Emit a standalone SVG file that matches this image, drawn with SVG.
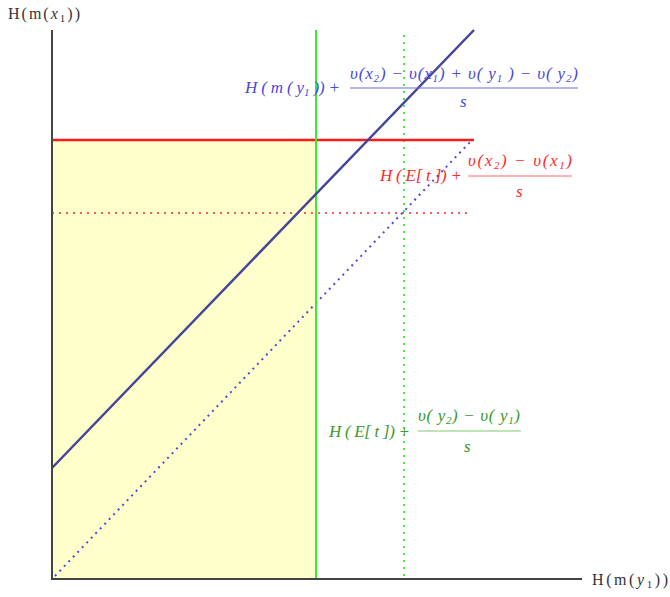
<svg xmlns="http://www.w3.org/2000/svg" width="670" height="597" viewBox="0 0 670 597">
<style>
text{font-family:"Liberation Serif","DejaVu Serif",serif;font-size:17px}
.m{font-style:italic}
.ax{fill:#333;font-size:16px}
.b{fill:#4a4ad8}
.r{fill:#ff2a2a}
.g{fill:#3a9a2a}
.fb{stroke:#6a6ae0;stroke-width:1.2}
.fr{stroke:#ff6a6a;stroke-width:1.2}
.fg{stroke:#80c870;stroke-width:1.2}
</style>
<rect width="670" height="597" fill="#fff"/>
<g id="region"><rect x="52" y="140" width="264" height="439" fill="#ffffcc"/></g>
<g id="connectors" fill="none">
<line x1="52" y1="213" x2="470" y2="213" stroke="#ff5a5a" stroke-width="2" stroke-dasharray="2,5"/>
<line x1="55" y1="576" x2="472" y2="140" stroke="#4a4ae0" stroke-width="2" stroke-dasharray="2,4.5"/>
<line x1="404" y1="35" x2="404" y2="579" stroke="#40f040" stroke-width="2" stroke-dasharray="2,5"/>
<line x1="52" y1="140" x2="474" y2="140" stroke="#ff1a1a" stroke-width="2.5"/>
<line x1="316" y1="30" x2="316" y2="579" stroke="#33ee33" stroke-width="2"/>
<line x1="52" y1="468" x2="474" y2="30" stroke="#44449a" stroke-width="2.5"/>
<line x1="52" y1="30" x2="52" y2="580" stroke="#444" stroke-width="2"/>
<line x1="51" y1="579" x2="582" y2="579" stroke="#444" stroke-width="2"/>
</g>
<g id="axis-y"><text x="8" y="19" class="ax" textLength="72" lengthAdjust="spacing">H(m(<tspan class="m">x</tspan><tspan font-size="11" dy="3">1</tspan><tspan dy="-3">))</tspan></text></g>
<g id="axis-x"><text x="592" y="585" class="ax" textLength="76" lengthAdjust="spacing">H(m(<tspan class="m">y</tspan><tspan font-size="11" dy="3">1</tspan><tspan dy="-3">))</tspan></text></g>
<g id="label-blue">
<text x="245" y="93" class="b m" textLength="95" lengthAdjust="spacing">H ( m ( y<tspan font-size="11" dy="3">1</tspan><tspan dy="-3"> )) +</tspan></text>
<text x="350" y="79" class="b m" textLength="228" lengthAdjust="spacing">υ(x<tspan font-size="11" dy="3">2</tspan><tspan dy="-3">) − υ(x</tspan><tspan font-size="11" dy="3">1</tspan><tspan dy="-3">) + υ( y</tspan><tspan font-size="11" dy="3">1</tspan><tspan dy="-3"> ) − υ( y</tspan><tspan font-size="11" dy="3">2</tspan><tspan dy="-3">)</tspan></text>
<line x1="350" y1="88" x2="578" y2="88" class="fb"/>
<text x="460" y="107" class="b m">s</text>
</g>
<g id="label-red">
<text x="380" y="181" class="r m" textLength="82" lengthAdjust="spacing">H ( E[ t ]) +</text>
<text x="468" y="166" class="r m" textLength="104" lengthAdjust="spacing">υ(x<tspan font-size="11" dy="3">2</tspan><tspan dy="-3">) − υ(x</tspan><tspan font-size="11" dy="3">1</tspan><tspan dy="-3">)</tspan></text>
<line x1="468" y1="176" x2="572" y2="176" class="fr"/>
<text x="516" y="197" class="r m">s</text>
</g>
<g id="label-green">
<text x="329" y="437" class="g m" textLength="81" lengthAdjust="spacing">H ( E[ t ]) +</text>
<text x="418" y="421" class="g m" textLength="102" lengthAdjust="spacing">υ( y<tspan font-size="11" dy="3">2</tspan><tspan dy="-3">) − υ( y</tspan><tspan font-size="11" dy="3">1</tspan><tspan dy="-3">)</tspan></text>
<line x1="418" y1="431" x2="521" y2="431" class="fg"/>
<text x="464" y="452" class="g m">s</text>
</g>
</svg>
